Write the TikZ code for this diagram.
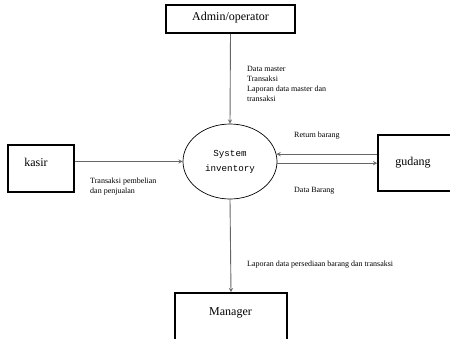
\documentclass[tikz,border=0pt]{standalone}
\usepackage{fontspec}
\setmainfont{Liberation Serif}
\setmonofont{Liberation Mono}
\usetikzlibrary{shapes.geometric}
\begin{document}
\begin{tikzpicture}[x = 1pt, y = -1pt,
        entity/.style = {draw, line width = 1.6pt, inner sep = 0pt},
        process/.style = {draw, ellipse, line width = 0.7pt, inner sep = 0pt,
            minimum width = 94pt, minimum height = 75pt, align = center,
            font = \ttfamily\fontsize{9.2}{15}\selectfont},
        flow/.style = {draw = black!60, line width = 0.9pt, -stealth},
        boxtext/.style = {font = \fontsize{12}{14}\selectfont, inner sep = 0pt},
        note/.style = {font = \fontsize{8}{10}\selectfont, align = left, inner sep = 0pt, anchor = west}]
        \useasboundingbox (0, 0) rectangle (450, 338);
        \clip (0, 0) rectangle (450, 338);
        % entities
        \node[entity, minimum width = 129pt, minimum height = 28pt] (admin) at (230.5, 19) {};
        \node[entity, minimum width = 66pt, minimum height = 47pt] (kasir) at (41, 168.5) {};
        \node[entity, minimum width = 82pt, minimum height = 56pt] (gudang) at (419, 163) {};
        \node[entity, minimum width = 112pt, minimum height = 56pt] (manager) at (231, 321) {};
        \node[boxtext] (admintext) at (230.5, 18) {Admin/operator};
        \node[boxtext] (kasirtext) at (36, 162) {kasir};
        \node[boxtext] (gudangtext) at (413, 163) {gudang};
        \node[boxtext] (managertext) at (230.5, 313) {Manager};
        % process
        \node[process] (sys) at (230, 161.5) {System\\inventory};
        % flows
        \draw[flow] (admin.south) -- (sys.north);
        \draw[flow] (kasir.east |- sys.west) -- (sys.west);
        \draw[flow] (sys.9 -| gudang.west) -- (sys.9);
        \draw[flow] (sys.-2) -- (sys.-2 -| gudang.west);
        \draw[flow] (sys.south) -- (manager.north);
        % labels
        \node[note, anchor = north west] (adminflow) at (247, 66) {Data master\\Transaksi\\Laporan data master dan\\transaksi};
        \node[note, anchor = north west] (kasirflow) at (90, 178) {Transaksi pembelian\\dan penjualan};
        \node[note] (returnflow) at (294, 136) {Return barang};
        \node[note] (barangflow) at (294, 191) {Data Barang};
        \node[note] (managerflow) at (247, 265) {Laporan data persediaan barang dan transaksi};
\end{tikzpicture}
\end{document}
